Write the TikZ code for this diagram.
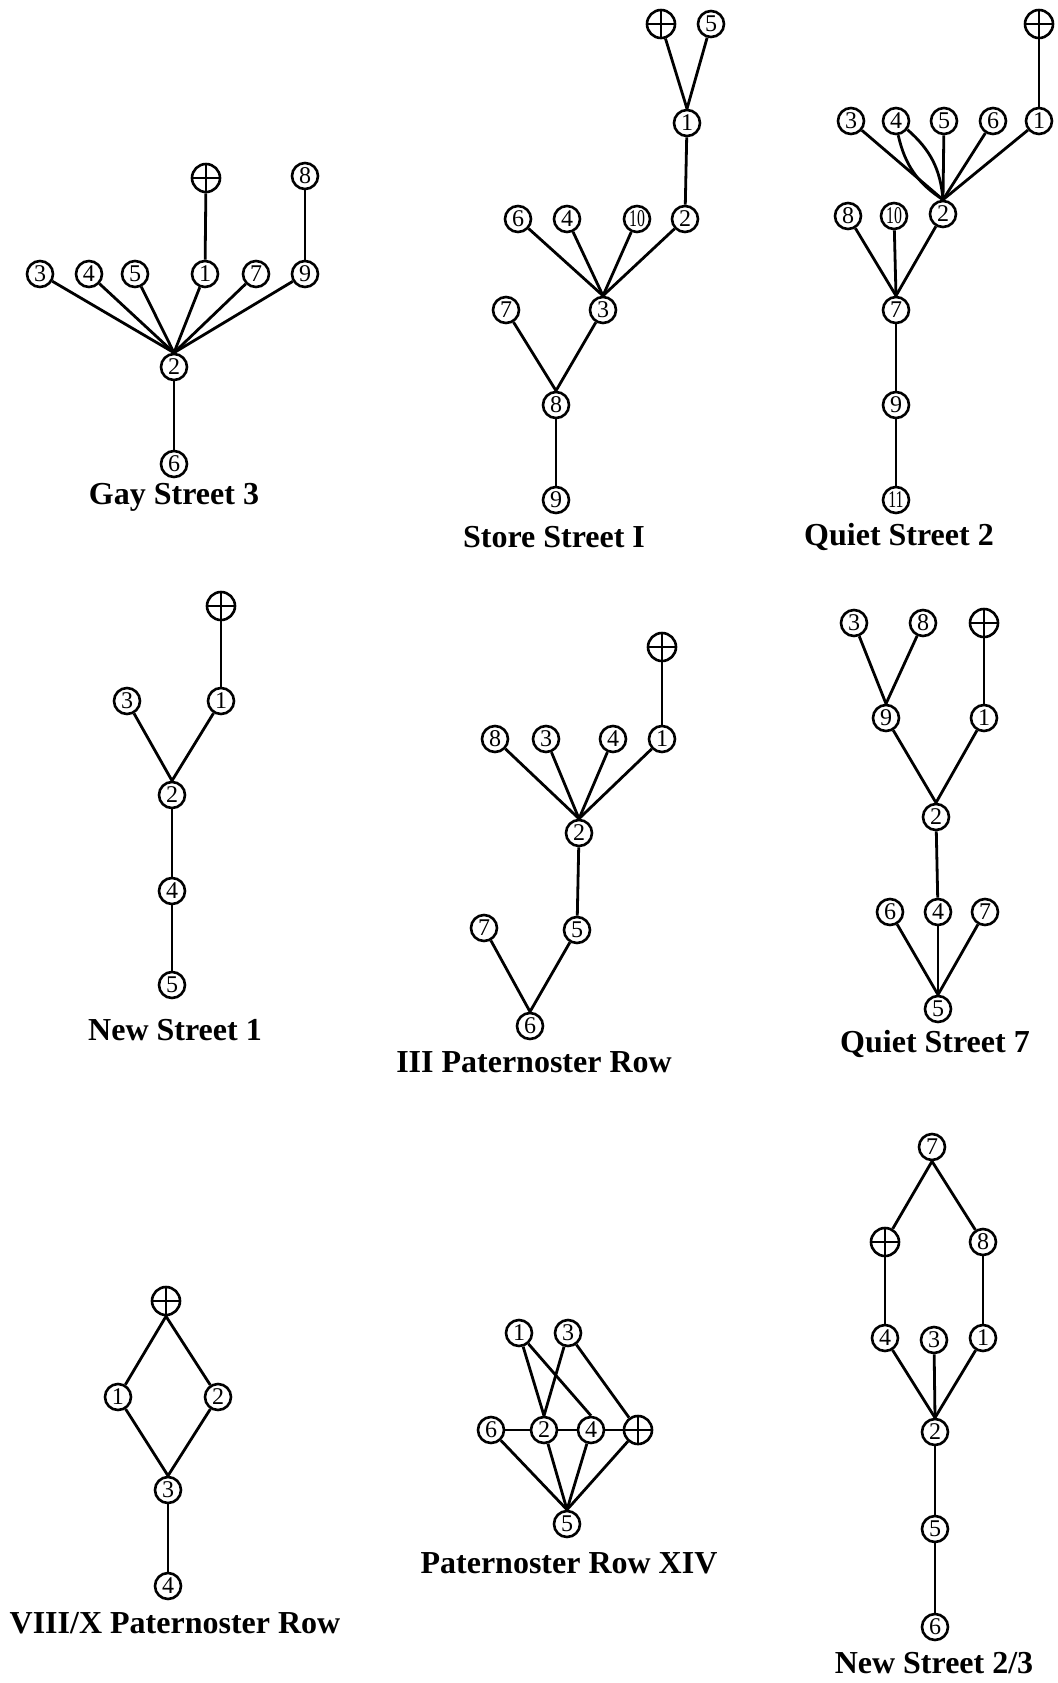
\documentclass[tikz,border=0pt]{standalone}
\usepackage{fontspec}
\setmainfont{Liberation Serif}
\usepackage{graphicx}
\newcommand{\tw}[1]{\scalebox{0.66}[1]{#1}}
\begin{document}
\begin{tikzpicture}[x=0.5pt,y=-0.5pt,line width=1.4pt,
  nd/.style={circle,draw,line width=1.3pt,inner sep=0pt,minimum size=13pt,font=\fontsize{12}{12}\selectfont},
  cross/.style={nd,minimum size=14pt,path picture={\draw[line width=1.3pt] (path picture bounding box.north) -- (path picture bounding box.south) (path picture bounding box.west) -- (path picture bounding box.east);}},
  ttl/.style={font=\bfseries\fontsize{16}{16}\selectfont,inner sep=0pt}]
\useasboundingbox (0,0) rectangle (1058,1683);

% ---------- Gay Street 3
\node[cross] (gP) at (206,178) {};
\node[nd] (g8) at (305,176) {8};
\node[nd] (g3) at (40,274) {3};
\node[nd] (g4) at (89,274) {4};
\node[nd] (g5) at (135,274) {5};
\node[nd] (g1) at (205,274) {1};
\node[nd] (g7) at (256,274) {7};
\node[nd] (g9) at (305,274) {9};
\node[nd] (g2) at (174,367) {2};
\node[nd] (g6) at (174,464) {6};
\node[ttl] (gL) at (174,497) {Gay Street 3};
\draw (gP) -- (g1);
\draw (g8) -- (g9);
\foreach \n in {g3,g4,g5,g1,g7,g9} \draw (\n) -- (g2.north);
\draw (g2) -- (g6);

% ---------- Store Street I
\node[cross] (sP) at (661,24) {};
\node[nd] (s5) at (711,24) {5};
\node[nd] (s1) at (687,123) {1};
\node[nd] (s6) at (518,219) {6};
\node[nd] (s4) at (567,219) {4};
\node[nd] (s10) at (637,219) {\tw{10}};
\node[nd] (s2) at (685,219) {2};
\node[nd] (s7) at (506,310) {7};
\node[nd] (s3) at (603,310) {3};
\node[nd] (s8) at (556,405) {8};
\node[nd] (s9) at (556,500) {9};
\node[ttl] (sL) at (554,537) {Store Street I};
\draw (sP) -- (s1.north);
\draw (s5) -- (s1.north);
\draw (s1) -- (s2);
\foreach \n in {s6,s4,s10,s2} \draw (\n) -- (s3.north);
\draw (s7) -- (s8.north);
\draw (s3) -- (s8.north);
\draw (s8) -- (s9);

% ---------- Quiet Street 2
\node[cross] (qP) at (1039,24) {};
\node[nd] (q3) at (851,121) {3};
\node[nd] (q4) at (896,121) {4};
\node[nd] (q5) at (944,121) {5};
\node[nd] (q6) at (993,121) {6};
\node[nd] (q1) at (1039,121) {1};
\node[nd] (q8) at (848,216) {8};
\node[nd] (q10) at (894,216) {\tw{10}};
\node[nd] (q2) at (943,214) {2};
\node[nd] (q7) at (896,310) {7};
\node[nd] (q9) at (896,405) {9};
\node[nd] (q11) at (896,500) {\tw{11}};
\node[ttl] (qL) at (899,537) {Quiet Street 2};
\draw (qP) -- (q1);
\foreach \n in {q3,q5,q6,q1} \draw (\n) -- (q2.north);
\draw (q4) to[bend right=22] (q2.north);
\draw (q4) to[bend left=22] (q2.north);
\foreach \n in {q8,q10,q2} \draw (\n) -- (q7.north);
\draw (q7) -- (q9);
\draw (q9) -- (q11);

% ---------- New Street 1
\node[cross] (nP) at (221,606) {};
\node[nd] (n3) at (127,701) {3};
\node[nd] (n1) at (221,701) {1};
\node[nd] (n2) at (172,795) {2};
\node[nd] (n4) at (172,891) {4};
\node[nd] (n5) at (172,985) {5};
\node[ttl] (nL) at (175,1030) {New Street 1};
\draw (nP) -- (n1);
\draw (n3) -- (n2.north);
\draw (n1) -- (n2.north);
\draw (n2) -- (n4);
\draw (n4) -- (n5);

% ---------- III Paternoster Row
\node[cross] (pP) at (662,647) {};
\node[nd] (p8) at (495,739) {8};
\node[nd] (p3) at (546,739) {3};
\node[nd] (p4) at (613,739) {4};
\node[nd] (p1) at (662,739) {1};
\node[nd] (p2) at (579,833) {2};
\node[nd] (p7) at (484,928) {7};
\node[nd] (p5) at (577,930) {5};
\node[nd] (p6) at (530,1026) {6};
\node[ttl] (pL) at (534,1062) {III Paternoster Row};
\draw (pP) -- (p1);
\foreach \n in {p8,p3,p4,p1} \draw (\n) -- (p2.north);
\draw (p2) -- (p5);
\draw (p7) -- (p6.north);
\draw (p5) -- (p6.north);

% ---------- Quiet Street 7
\node[nd] (t3) at (854,623) {3};
\node[nd] (t8) at (923,623) {8};
\node[cross] (tP) at (984,623) {};
\node[nd] (t9) at (886,718) {9};
\node[nd] (t1) at (984,718) {1};
\node[nd] (t2) at (936,817) {2};
\node[nd] (t6) at (890,912) {6};
\node[nd] (t4) at (938,912) {4};
\node[nd] (t7) at (985,912) {7};
\node[nd] (t5) at (938,1009) {5};
\node[ttl] (tL) at (935,1044) {Quiet Street 7};
\draw (t3) -- (t9.north);
\draw (t8) -- (t9.north);
\draw (tP) -- (t1);
\draw (t9) -- (t2.north);
\draw (t1) -- (t2.north);
\draw (t2) -- (t4);
\foreach \n in {t6,t4,t7} \draw (\n) -- (t5.north);

% ---------- VIII/X Paternoster Row
\node[cross] (vP) at (166,1301) {};
\node[nd] (v1) at (118,1397) {1};
\node[nd] (v2) at (218,1397) {2};
\node[nd] (v3) at (168,1490) {3};
\node[nd] (v4) at (168,1586) {4};
\node[ttl] (vL) at (175,1623) {VIII/X Paternoster Row};
\draw (vP.south) -- (v1);
\draw (vP.south) -- (v2);
\draw (v1) -- (v3.north);
\draw (v2) -- (v3.north);
\draw (v3) -- (v4);

% ---------- Paternoster Row XIV
\node[nd] (x1) at (519,1333) {1};
\node[nd] (x3) at (568,1333) {3};
\node[nd] (x6) at (491,1430) {6};
\node[nd] (x2) at (544,1430) {2};
\node[nd] (x4) at (591,1430) {4};
\node[cross] (xP) at (638,1430) {};
\node[nd] (x5) at (567,1524) {5};
\node[ttl] (xL) at (569,1563) {Paternoster Row XIV};
\draw (x1) -- (x2.north);
\draw (x1) -- (x4.north);
\draw (x3) -- (x2.north);
\draw (x3) -- (xP);
\draw (x6) -- (x2);
\draw (x2) -- (x4);
\draw (x4) -- (xP);
\foreach \n in {x6,x2,x4,xP} \draw (\n) -- (x5.north);

% ---------- New Street 2/3
\node[nd] (w7) at (932,1147) {7};
\node[cross] (wP) at (885,1242) {};
\node[nd] (w8) at (983,1242) {8};
\node[nd] (w4) at (885,1338) {4};
\node[nd] (w3) at (934,1340) {3};
\node[nd] (w1) at (983,1338) {1};
\node[nd] (w2) at (935,1432) {2};
\node[nd] (w5) at (935,1529) {5};
\node[nd] (w6) at (935,1627) {6};
\node[ttl] (wL) at (934,1663) {New Street 2/3};
\draw (w7.south) -- (wP);
\draw (w7.south) -- (w8);
\draw (wP) -- (w4);
\draw (w8) -- (w1);
\foreach \n in {w4,w3,w1} \draw (\n) -- (w2.north);
\draw (w2) -- (w5);
\draw (w5) -- (w6);
\end{tikzpicture}
\end{document}
